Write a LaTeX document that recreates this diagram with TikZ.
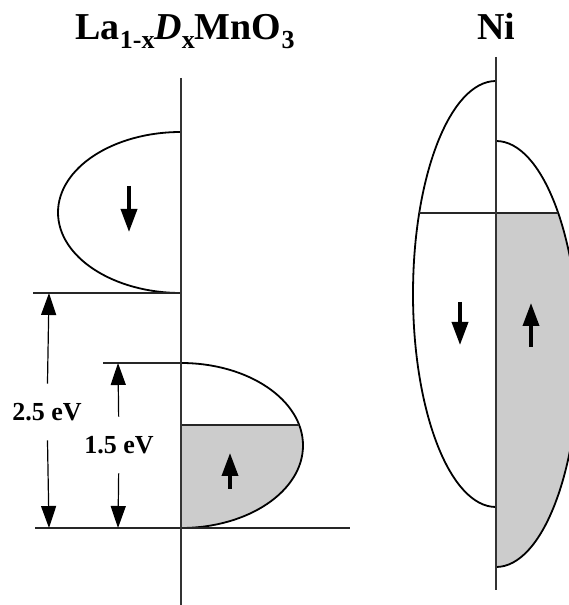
\documentclass[tikz,border=0pt]{standalone}
\usepackage{fontspec}
\setmainfont{Liberation Serif}
\usetikzlibrary{arrows.meta, positioning}
\newcommand{\lowsub}[1]{\raisebox{-4.5pt}{\fontsize{13}{13}\selectfont #1}}

\begin{document}
\begin{tikzpicture}[x=0.5pt, y=0.5pt,
    axis/.style={line width=0.6pt, black!80},
    band/.style={line width=0.9pt},
    shade/.style={fill=black!20},
    lvl/.style={line width=0.7pt, black!85},
    dim/.style={-{Triangle[length=11pt, width=7.5pt]}, line width=0.6pt},
    spin/.style={-{Triangle[length=11.5pt, width=8pt]}, line width=1.8pt},
    lbl/.style={font=\fontsize{13}{14}\selectfont\bfseries, inner sep=0pt, minimum height=28pt},
    ttl/.style={font=\fontsize{19}{22}\selectfont\bfseries, anchor=base}]
    \useasboundingbox (0,0) rectangle (568,605);

    % La(1-x)D(x)MnO3
    \node[ttl] (title) at (185,565) {La\lowsub{1-x}\textit{D}\lowsub{x}MnO\lowsub{3}};
    \begin{scope}
        \clip (181,159.5) ellipse [x radius=122, y radius=82.5];
        \fill[shade] (181,60) rectangle (320,180);
    \end{scope}
    \draw[band] (181,473) arc[start angle=90, end angle=270, x radius=123, y radius=80.5];
    \draw[band] (181,242) arc[start angle=90, end angle=-90, x radius=122, y radius=82.5];
    \draw[lvl] (33,312) -- (181,312);
    \draw[lvl] (103,242) -- (181,242);
    \draw[lvl] (35,77) -- (350,77);
    \draw[lvl] (181,180) -- (299.2,180);
    \draw[axis] (181,527) -- (181,0);
    \draw[spin] (129,419) -- (129,373);
    \draw[spin] (230,116) -- (230,152);

    \coordinate (d25t) at (49,312);
    \coordinate (d25b) at (49,77);
    \coordinate (d15t) at (118,242);
    \coordinate (d15b) at (118,77);
    \node[lbl] (lab25) at (47,193) {2.5 eV};
    \node[lbl] (lab15) at (119,160) {1.5 eV};
    \draw[dim] (lab25) -- (d25t);
    \draw[dim] (lab25) -- (d25b);
    \draw[dim] (lab15) -- (d15t);
    \draw[dim] (lab15) -- (d15b);

    % Ni
    \node[ttl] (ni) at (496,565) {Ni};
    \begin{scope}
        \clip (496,251) ellipse [x radius=83, y radius=213];
        \fill[shade] (496,30) rectangle (590,392);
    \end{scope}
    \draw[band] (496,524) arc[start angle=90, end angle=270, x radius=83, y radius=213];
    \draw[band] (496,464) arc[start angle=90, end angle=-90, x radius=83, y radius=213];
    \draw[lvl] (419,392) -- (558,392);
    \draw[axis] (496,548) -- (496,15);
    \draw[spin] (460,303) -- (460,260);
    \draw[spin] (531,258) -- (531,302);
\end{tikzpicture}
\end{document}
